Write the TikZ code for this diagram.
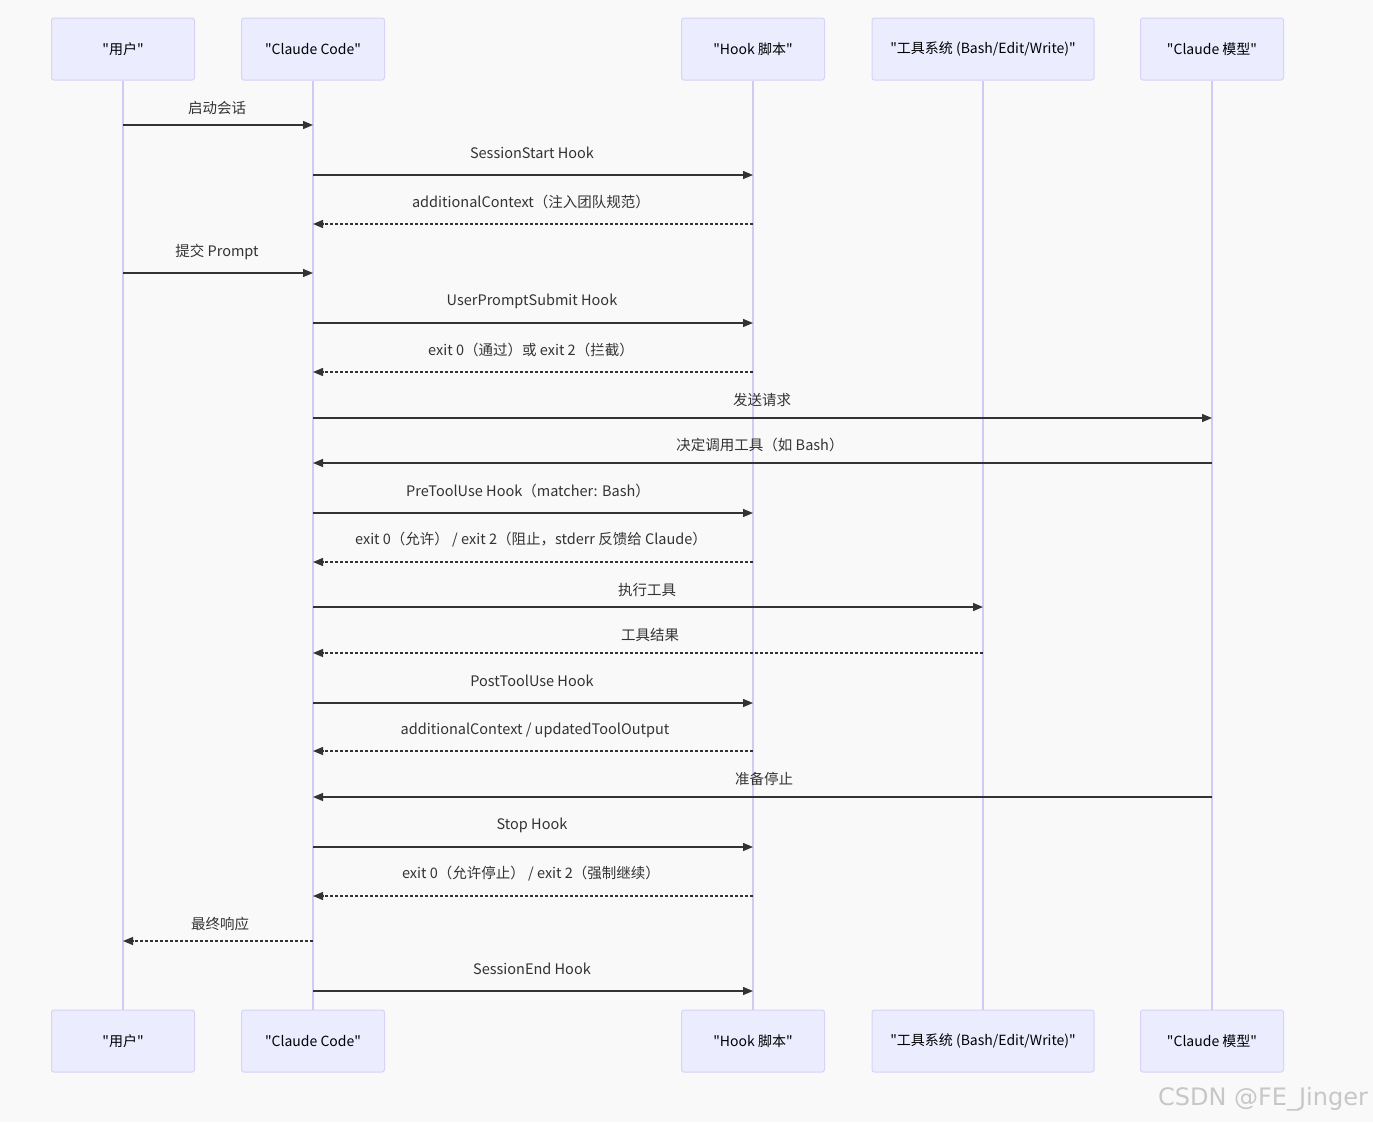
\documentclass[tikz,border=0pt]{standalone}
\usepackage{fontspec}
\newfontfamily\cjk{Noto Sans CJK SC}
\newfontfamily\wmfont{DejaVu Sans}
\usetikzlibrary{arrows.meta}
\definecolor{bgc}{HTML}{F9F9F9}
\definecolor{actfill}{HTML}{ECECFF}
\definecolor{actdraw}{HTML}{D7D2F6}
\definecolor{lifec}{HTML}{D0CAF5}
\definecolor{msgc}{HTML}{333333}
\definecolor{txtc}{HTML}{333333}
\begin{document}
\begin{tikzpicture}[x=1pt,y=-1pt,
  actor/.style={draw=actdraw, fill=actfill, line width=1pt, rounded corners=2.5pt,
    minimum height=62pt, inner sep=0pt, font=\cjk\fontsize{14}{16}\selectfont, text=black},
  lifeline/.style={draw=lifec, line width=1.6pt},
  msgsolid/.style={draw=msgc, line width=1.3pt, -{Triangle[length=10pt,width=8pt]}},
  msgdash/.style={msgsolid, dash pattern=on 3pt off 2pt},
  lbl/.style={font=\cjk\fontsize{14.5}{17}\selectfont, text=txtc, inner sep=0pt}]
\useasboundingbox (0,0) rectangle (1373,1122);
\fill[bgc] (0,0) rectangle (1373,1122);

% actors top
\node[actor, minimum width=143pt] (u1) at (123,49) {"用户"};
\node[actor, minimum width=143pt] (c1) at (313,49) {"Claude Code"};
\node[actor, minimum width=143pt] (h1) at (753,49) {"Hook 脚本"};
\node[actor, minimum width=222pt] (t1) at (983,49) {"工具系统 (Bash/Edit/Write)"};
\node[actor, minimum width=143pt] (m1) at (1212,49) {"Claude 模型"};
% actors bottom
\node[actor, minimum width=143pt] (u2) at (123,1041) {"用户"};
\node[actor, minimum width=143pt] (c2) at (313,1041) {"Claude Code"};
\node[actor, minimum width=143pt] (h2) at (753,1041) {"Hook 脚本"};
\node[actor, minimum width=222pt] (t2) at (983,1041) {"工具系统 (Bash/Edit/Write)"};
\node[actor, minimum width=143pt] (m2) at (1212,1041) {"Claude 模型"};

% lifelines
\draw[lifeline] (u1.south) -- (u2.north);
\draw[lifeline] (c1.south) -- (c2.north);
\draw[lifeline] (h1.south) -- (h2.north);
\draw[lifeline] (t1.south) -- (t2.north);
\draw[lifeline] (m1.south) -- (m2.north);

% messages
\draw[msgsolid] (u1.south |- 0,125) -- (c1.south |- 0,125);
\node[lbl] (l1) at (217,108) {启动会话};

\draw[msgsolid] (c1.south |- 0,175) -- (h1.south |- 0,175);
\node[lbl] (l2) at (532,153) {SessionStart Hook};

\draw[msgdash] (h1.south |- 0,224) -- (c1.south |- 0,224);
\node[lbl] (l3) at (531,202) {additionalContext（注入团队规范）};

\draw[msgsolid] (u1.south |- 0,273) -- (c1.south |- 0,273);
\node[lbl] (l4) at (217,252) {提交 Prompt};

\draw[msgsolid] (c1.south |- 0,323) -- (h1.south |- 0,323);
\node[lbl] (l5) at (532,301) {UserPromptSubmit Hook};

\draw[msgdash] (h1.south |- 0,372) -- (c1.south |- 0,372);
\node[lbl] (l6) at (531,350) {exit 0（通过）或 exit 2（拦截）};

\draw[msgsolid] (c1.south |- 0,418) -- (m1.south |- 0,418);
\node[lbl] (l7) at (762,400) {发送请求};

\draw[msgsolid] (m1.south |- 0,463) -- (c1.south |- 0,463);
\node[lbl] (l8) at (760,445) {决定调用工具（如 Bash）};

\draw[msgsolid] (c1.south |- 0,513) -- (h1.south |- 0,513);
\node[lbl] (l9) at (528,491) {PreToolUse Hook（matcher: Bash）};

\draw[msgdash] (h1.south |- 0,562) -- (c1.south |- 0,562);
\node[lbl] (l10) at (531,540) {exit 0（允许） / exit 2（阻止，stderr 反馈给 Claude）};

\draw[msgsolid] (c1.south |- 0,607) -- (t1.south |- 0,607);
\node[lbl] (l11) at (647,590) {执行工具};

\draw[msgdash] (t1.south |- 0,653) -- (c1.south |- 0,653);
\node[lbl] (l12) at (650,635) {工具结果};

\draw[msgsolid] (c1.south |- 0,703) -- (h1.south |- 0,703);
\node[lbl] (l13) at (532,681) {PostToolUse Hook};

\draw[msgdash] (h1.south |- 0,751) -- (c1.south |- 0,751);
\node[lbl] (l14) at (535,730) {additionalContext / updatedToolOutput};

\draw[msgsolid] (m1.south |- 0,797) -- (c1.south |- 0,797);
\node[lbl] (l15) at (764,779) {准备停止};

\draw[msgsolid] (c1.south |- 0,847) -- (h1.south |- 0,847);
\node[lbl] (l16) at (532,825) {Stop Hook};

\draw[msgdash] (h1.south |- 0,896) -- (c1.south |- 0,896);
\node[lbl] (l17) at (531,874) {exit 0（允许停止） / exit 2（强制继续）};

\draw[msgdash] (c1.south |- 0,941) -- (u1.south |- 0,941);
\node[lbl] (l18) at (220,924) {最终响应};

\draw[msgsolid] (c1.south |- 0,991) -- (h1.south |- 0,991);
\node[lbl] (l19) at (532,969) {SessionEnd Hook};

% watermark
\node[font=\wmfont\fontsize{24}{27}\selectfont, text=black!22, inner sep=0pt] (wm) at (1263,1099) {CSDN @FE\_Jinger};
\end{tikzpicture}
\end{document}
